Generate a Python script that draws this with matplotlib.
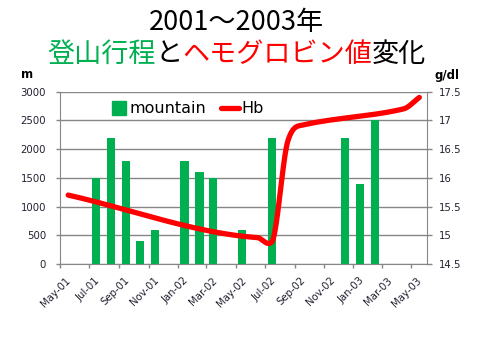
import numpy as np
import matplotlib
matplotlib.use('Agg')
import matplotlib.pyplot as plt
import matplotlib.dates as mdates
from matplotlib.lines import Line2D
from matplotlib.transforms import ScaledTranslation

# data
bar_dates = ['2001-07-15', '2001-08-15', '2001-09-15', '2001-10-15', '2001-11-15',
             '2002-01-15', '2002-02-15', '2002-03-15', '2002-05-15', '2002-07-15',
             '2002-12-15', '2003-01-15', '2003-02-15']
bar_heights = [1500, 2200, 1800, 400, 600, 1800, 1600, 1500, 600, 2200, 2200, 1400, 2500]

hb_dates = ['2001-05-18', '2002-06-15', '2002-07-15', '2002-08-18', '2002-09-18',
            '2003-04-15', '2003-05-18']
hb_values = [15.70, 14.96, 14.88, 16.65, 16.92, 17.20, 17.40]

tick_dates = ['2001-05-01', '2001-07-01', '2001-09-01', '2001-11-01', '2002-01-01',
              '2002-03-01', '2002-05-01', '2002-07-01', '2002-09-01', '2002-11-01',
              '2003-01-01', '2003-03-01', '2003-05-01']

green = '#00B050'
red = '#FF0000'
gray = '#868686'
txt = '#202030'


def to_num(d):
    return mdates.date2num(np.array(d, dtype='datetime64[D]'))


def smooth_curve(x, y, per_seg=40):
    # smoothed line like the spreadsheet's "smoothed line" option
    x = np.asarray(x, float)
    y = np.asarray(y, float)
    h = np.diff(x)
    d = np.diff(y) / h
    m = np.empty_like(y)
    m[0], m[-1] = d[0], d[-1]
    m[1:-1] = (y[2:] - y[:-2]) / (x[2:] - x[:-2])
    for i in range(len(d)):
        if d[i] == 0:
            continue
        a, b = m[i] / d[i], m[i + 1] / d[i]
        s = a * a + b * b
        if s > 9:
            t = 3 / np.sqrt(s)
            m[i], m[i + 1] = t * a * d[i], t * b * d[i]
    xs, ys = [], []
    for i in range(len(d)):
        t = np.linspace(0, 1, per_seg)
        h00 = 2 * t**3 - 3 * t**2 + 1
        h10 = t**3 - 2 * t**2 + t
        h01 = -2 * t**3 + 3 * t**2
        h11 = t**3 - t**2
        xs.append(x[i] + t * h[i])
        ys.append(h00 * y[i] + h10 * h[i] * m[i] + h01 * y[i + 1] + h11 * h[i] * m[i + 1])
    return np.concatenate(xs), np.concatenate(ys)


fig = plt.figure(figsize=(4.8, 3.6), dpi=100)
ax = fig.add_axes([60 / 480, 96 / 360, 367 / 480, 172.3 / 360])

bx = to_num(bar_dates)
ax.bar(bx, bar_heights, width=17, color=green, zorder=2)
ax.set_ylim(0, 3000)
ax.set_yticks(range(0, 3001, 500))
ax.set_xlim(to_num('2001-05-01'), to_num('2003-06-03'))
ax.yaxis.grid(True, color=gray, lw=1)
ax.set_axisbelow(True)

ax.tick_params(axis='y', direction='out', length=3, width=1, color=gray,
               labelsize=7.3, labelcolor=txt, pad=7)
ax.tick_params(axis='x', direction='out', length=3, width=1, color=gray,
               labelsize=7.3, labelcolor=txt, pad=7.8)

tx = to_num(tick_dates)
ax.set_xticks(tx)
ax.set_xticklabels([mdates.num2date(v).strftime('%b-%y') for v in tx],
                   rotation=45, ha='right', va='center', rotation_mode='anchor')
shift = ScaledTranslation(0.09, 0, fig.dpi_scale_trans)
for lab in ax.get_xticklabels():
    lab.set_transform(lab.get_transform() + shift)

for s in ['top', 'right']:
    ax.spines[s].set_visible(False)
for s in ['left', 'bottom']:
    ax.spines[s].set_color(gray)

ax2 = ax.twinx()
hx, hy = smooth_curve(to_num(hb_dates), hb_values)
ax2.plot(hx, hy, color=red, lw=3.8, solid_capstyle='round', solid_joinstyle='round')
ax2.set_ylim(14.5, 17.5)
ax2.set_yticks(np.arange(14.5, 17.51, 0.5))
ax2.set_yticklabels([f'{v:g}' for v in np.arange(14.5, 17.51, 0.5)])
ax2.tick_params(axis='y', direction='out', length=3.6, width=1, color=gray,
                labelsize=7.3, labelcolor=txt, pad=5)
for s in ['top', 'left', 'bottom']:
    ax2.spines[s].set_visible(False)
ax2.spines['right'].set_color(gray)

handles = [Line2D([], [], marker='s', markersize=9.5, color=green, linestyle='none'),
           Line2D([], [], color=red, lw=3.8, solid_capstyle='round')]
ax2.legend(handles, ['mountain', 'Hb'], ncol=2, frameon=False, loc='center',
           bbox_to_anchor=(0.345, 0.9), fontsize=11.5, handlelength=1.1,
           handletextpad=0.15, columnspacing=0.9, borderpad=0)

# unit labels
fig.text(27 / 480, 1 - 75 / 360, 'm', ha='center', va='center',
         fontweight='bold', fontsize=8.5)
fig.text(447 / 480, 1 - 75 / 360, 'g/dl', ha='center', va='center',
         fontweight='bold', fontsize=8.5)

# title, second line in several colours
cjk = ['Noto Sans CJK JP', 'DejaVu Sans']
fsize = 19.5
fig.text(236.5 / 480, 1 - 23 / 360, '2001～2003年', ha='center', va='center',
         fontsize=fsize, family=cjk)
parts = [('登山行程', green), ('と', 'black'), ('ヘモグロビン値', red), ('変化', 'black')]
em = fsize * 100 / 72
n_total = sum(len(p) for p, _ in parts)
x0 = 236.7 - n_total * em / 2
for p, c in parts:
    fig.text(x0 / 480, 1 - 54 / 360, p, ha='left', va='center',
             fontsize=fsize, family=cjk, color=c)
    x0 += len(p) * em

fig.savefig('out.png', dpi=100, facecolor='white')
